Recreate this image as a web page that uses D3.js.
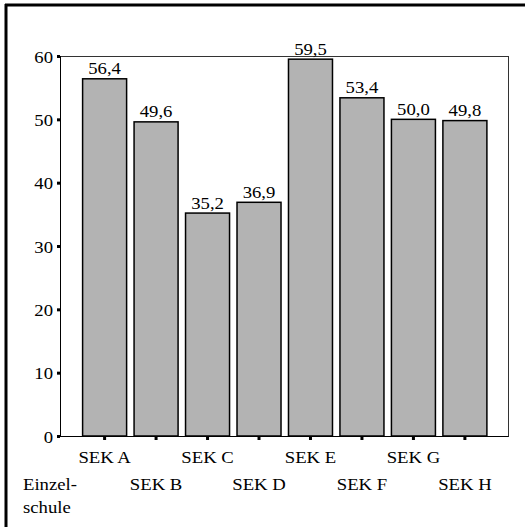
<!DOCTYPE html>
<html><head><meta charset="utf-8">
<script src="https://cdn.jsdelivr.net/npm/d3@7"></script>
<style>
html,body{margin:0;padding:0;background:#fff;font-family:"Liberation Serif";}
svg{display:block;}
svg text{font-family:"Liberation Serif" !important;}
</style>
</head><body>
<script>
const categories = ["SEK A","SEK B","SEK C","SEK D","SEK E","SEK F","SEK G","SEK H"];
const values = [56.4, 49.6, 35.2, 36.9, 59.5, 53.4, 50.0, 49.8];
const yTicks = [0, 10, 20, 30, 40, 50, 60];
const axisTitle = ["Einzel-", "schule"];

const W = 525, H = 527;
const FS = "17px";
const SX = 1.1; // horizontal stretch of reference lettering
const svg = d3.select("body").append("svg").attr("width", W).attr("height", H)
  .style("font-family", '"Liberation Serif"');

function place(sel, fx, fy) {
  sel.attr("x", 0).attr("y", 0)
     .attr("transform", (d,i)=>`translate(${fx(d,i)},${fy(d,i)}) scale(${SX},1)`)
     .attr("font-family", "Liberation Serif")
     .style("font-family", '"Liberation Serif"').style("font-size", FS).attr("fill","#000");
}

// outer frame (top + left)
svg.append("line").attr("x1",5).attr("x2",W).attr("y1",5).attr("y2",5).attr("stroke","#000").attr("stroke-width",3);
svg.append("line").attr("x1",6).attr("x2",6).attr("y1",4).attr("y2",H).attr("stroke","#000").attr("stroke-width",3);

const plot = {l:60, r:508, t:56, b:436};
const x = d3.scaleBand().domain(categories).range([79, 490.5]).paddingInner(0.145).paddingOuter(0.07);
const y = d3.scaleLinear().domain([0,60]).range([plot.b, plot.t]);

// plot frame
svg.append("rect").attr("x",plot.l+0.5).attr("y",plot.t+0.5).attr("width",plot.r-plot.l).attr("height",plot.b-plot.t)
  .attr("fill","none").attr("stroke","#333").attr("stroke-width",1);

// bars
svg.selectAll("rect.bar").data(values).join("rect").attr("class","bar")
  .attr("x",(d,i)=>x(categories[i])).attr("width",x.bandwidth())
  .attr("y",d=>y(d)).attr("height",d=>y(0)-y(d))
  .attr("fill","#b3b3b3").attr("stroke","#000").attr("stroke-width",1.5);

// value labels
svg.selectAll("text.val").data(values).join("text").attr("class","val")
  .attr("text-anchor","middle")
  .call(place, (d,i)=>x(categories[i])+x.bandwidth()/2, d=>y(d)-4.5)
  .text(d=>d.toFixed(1).replace(".",","));

// axes lines
svg.append("line").attr("x1",plot.l+0.5).attr("x2",plot.l+0.5).attr("y1",plot.t).attr("y2",plot.b+0.5).attr("stroke","#000").attr("stroke-width",1);
svg.append("line").attr("x1",plot.l).attr("x2",plot.r+0.5).attr("y1",plot.b+0.5).attr("y2",plot.b+0.5).attr("stroke","#000").attr("stroke-width",1);

// y ticks
const yAxis = d3.axisLeft(y).tickValues(yTicks).tickSize(0).tickPadding(0).tickFormat(d=>d);
const gy = svg.append("g").attr("transform",`translate(${plot.l},0)`).call(yAxis);
gy.attr("font-family", "Liberation Serif").attr("font-size", null);
gy.select(".domain").remove();
gy.selectAll(".tick text").attr("dy",null).attr("text-anchor","end")
  .call(place, ()=>-7, ()=>6);
gy.selectAll(".tick").append("rect").attr("x",-3).attr("y",-1.5).attr("width",3).attr("height",3).attr("fill","#000");

// x ticks
const xAxis = d3.axisBottom(x).tickSize(0).tickFormat("");
const gx = svg.append("g").attr("transform",`translate(0,${plot.b})`).call(xAxis);
gx.select(".domain").remove();
gx.selectAll(".tick text").remove();
gx.selectAll(".tick").append("rect").attr("x",-1.5).attr("y",1).attr("width",3).attr("height",3).attr("fill","#000");

// x labels staggered
svg.selectAll("text.xl").data(categories).join("text").attr("class","xl")
  .attr("text-anchor","middle")
  .call(place, d=>x(d)+x.bandwidth()/2, (d,i)=> i%2===0 ? 463 : 490)
  .text(d=>d);

// axis title
svg.selectAll("text.at").data(axisTitle).join("text").attr("class","at")
  .call(place, ()=>23, (d,i)=>490+i*23)
  .text(d=>d);
</script>
</body></html>
